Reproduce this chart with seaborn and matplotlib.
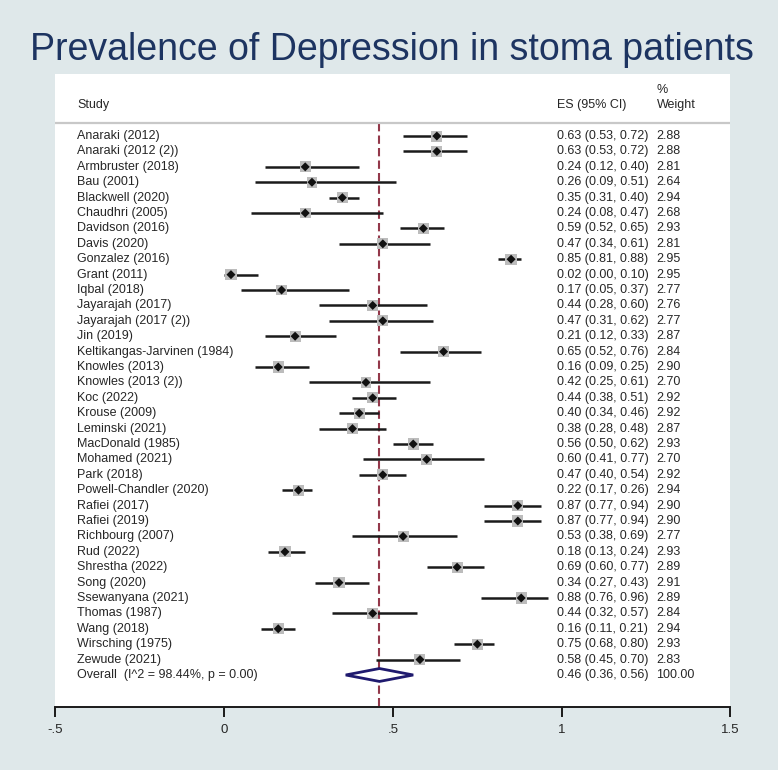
import numpy as np
import pandas as pd
import matplotlib
matplotlib.use("Agg")
import matplotlib.pyplot as plt
import seaborn as sns

# Dados do forest plot
estudos = ["Anaraki (2012)", "Anaraki (2012 (2))", "Armbruster (2018)", "Bau (2001)",
           "Blackwell (2020)", "Chaudhri (2005)", "Davidson (2016)", "Davis (2020)",
           "Gonzalez (2016)", "Grant (2011)", "Iqbal (2018)", "Jayarajah (2017)",
           "Jayarajah (2017 (2))", "Jin (2019)", "Keltikangas-Jarvinen (1984)",
           "Knowles (2013)", "Knowles (2013 (2))", "Koc (2022)", "Krouse (2009)",
           "Leminski (2021)", "MacDonald (1985)", "Mohamed (2021)", "Park (2018)",
           "Powell-Chandler (2020)", "Rafiei (2017)", "Rafiei (2019)", "Richbourg (2007)",
           "Rud (2022)", "Shrestha (2022)", "Song (2020)", "Ssewanyana (2021)",
           "Thomas (1987)", "Wang (2018)", "Wirsching (1975)", "Zewude (2021)"]
es = [0.63, 0.63, 0.24, 0.26, 0.35, 0.24, 0.59, 0.47, 0.85, 0.02, 0.17, 0.44,
      0.47, 0.21, 0.65, 0.16, 0.42, 0.44, 0.40, 0.38, 0.56, 0.60, 0.47, 0.22,
      0.87, 0.87, 0.53, 0.18, 0.69, 0.34, 0.88, 0.44, 0.16, 0.75, 0.58]
ic_inf = [0.53, 0.53, 0.12, 0.09, 0.31, 0.08, 0.52, 0.34, 0.81, 0.00, 0.05, 0.28,
          0.31, 0.12, 0.52, 0.09, 0.25, 0.38, 0.34, 0.28, 0.50, 0.41, 0.40, 0.17,
          0.77, 0.77, 0.38, 0.13, 0.60, 0.27, 0.76, 0.32, 0.11, 0.68, 0.45]
ic_sup = [0.72, 0.72, 0.40, 0.51, 0.40, 0.47, 0.65, 0.61, 0.88, 0.10, 0.37, 0.60,
          0.62, 0.33, 0.76, 0.25, 0.61, 0.51, 0.46, 0.48, 0.62, 0.77, 0.54, 0.26,
          0.94, 0.94, 0.69, 0.24, 0.77, 0.43, 0.96, 0.57, 0.21, 0.80, 0.70]
pesos = [2.88, 2.88, 2.81, 2.64, 2.94, 2.68, 2.93, 2.81, 2.95, 2.95, 2.77, 2.76,
         2.77, 2.87, 2.84, 2.90, 2.70, 2.92, 2.92, 2.87, 2.93, 2.70, 2.92, 2.94,
         2.90, 2.90, 2.77, 2.93, 2.89, 2.91, 2.89, 2.84, 2.94, 2.93, 2.83]
geral_rotulo = "Overall  (I^2 = 98.44%, p = 0.00)"
geral_es, geral_inf, geral_sup, geral_peso = 0.46, 0.36, 0.56, 100.00
ticks_x = [-0.5, 0, 0.5, 1, 1.5]
ticks_rotulos = ["-.5", "0", ".5", "1", "1.5"]

dados = pd.DataFrame({"estudo": estudos, "es": es, "inf": ic_inf,
                      "sup": ic_sup, "peso": pesos})
dados["linha"] = np.arange(len(dados))
n = len(dados)

sns.set_theme(style="white")
plt.rcParams["font.family"] = ["Liberation Sans", "DejaVu Sans"]

fundo = "#dfe8ea"
fig = plt.figure(figsize=(7.78, 7.70), dpi=100, facecolor=fundo)
ax = fig.add_axes([0.0713, 0.0818, 0.8676, 0.8221])
ax.set_facecolor("white")

# Linha de separação do cabeçalho e linha do efeito geral
ax.axhline(-0.85, color="#c8c8c8", lw=1.6)
ax.vlines(geral_es, -0.85, 37.1, colors="#93384a", lw=1.5,
          linestyles=(0, (4, 2)), zorder=1)

# Intervalos de confiança
ax.hlines(dados["linha"], dados["inf"], dados["sup"], colors="#1a1a1a", lw=1.8, zorder=2)

# Caixas de peso e pontos
tam = 8.0 * np.sqrt(dados["peso"] / 2.9)
sns.scatterplot(data=dados, x="es", y="linha", marker="s", s=tam ** 2,
                color="#bcbcbc", edgecolor="none", linewidth=0, ax=ax, zorder=3, legend=False)
sns.scatterplot(data=dados, x="es", y="linha", marker="D", s=4.6 ** 2,
                color="#111111", edgecolor="none", linewidth=0, ax=ax, zorder=4, legend=False)

# Diamante do efeito geral
h = 0.42
ax.fill([geral_inf, geral_es, geral_sup, geral_es, geral_inf],
        [n, n - h, n, n + h, n], facecolor="white", edgecolor="#1f1a6e",
        lw=2.0, zorder=5)

# Colunas de texto
x_estudo, x_es, x_peso = -0.435, 0.985, 1.281
fs = 9
ax.text(x_estudo, -2.0, "Study", fontsize=fs, va="center")
ax.text(x_es, -2.0, "ES (95% CI)", fontsize=fs, va="center")
ax.text(x_peso, -3.0, "%", fontsize=fs, va="center")
ax.text(x_peso, -2.0, "Weight", fontsize=fs, va="center")
for _, r in dados.iterrows():
    ax.text(x_estudo, r["linha"], r["estudo"], fontsize=fs, va="center")
    ax.text(x_es, r["linha"], f"{r['es']:.2f} ({r['inf']:.2f}, {r['sup']:.2f})",
            fontsize=fs, va="center")
    ax.text(x_peso, r["linha"], f"{r['peso']:.2f}", fontsize=fs, va="center")
ax.text(x_estudo, n, geral_rotulo, fontsize=fs, va="center")
ax.text(x_es, n, f"{geral_es:.2f} ({geral_inf:.2f}, {geral_sup:.2f})", fontsize=fs, va="center")
ax.text(x_peso, n, f"{geral_peso:.2f}", fontsize=fs, va="center")

# Eixos
ax.set_xlim(-0.5, 1.5)
ax.set_ylim(37.08, -4.03)
ax.set_xticks(ticks_x)
ax.set_xticklabels(ticks_rotulos, fontsize=9.5)
ax.set_yticks([])
ax.set(xlabel="", ylabel="")
for lado in ["top", "left", "right"]:
    ax.spines[lado].set_visible(False)
ax.spines["bottom"].set_color("#1a1a1a")
ax.spines["bottom"].set_linewidth(1.4)
ax.tick_params(axis="x", direction="out", length=7.2, width=1.4,
               color="#1a1a1a", pad=5, bottom=True)

fig.text(392 / 778, 1 - 60 / 770, "Prevalence of Depression in stoma patients",
         fontsize=27, color="#1d3461", ha="center", va="baseline")

fig.savefig("out.png", dpi=100, facecolor=fundo)
